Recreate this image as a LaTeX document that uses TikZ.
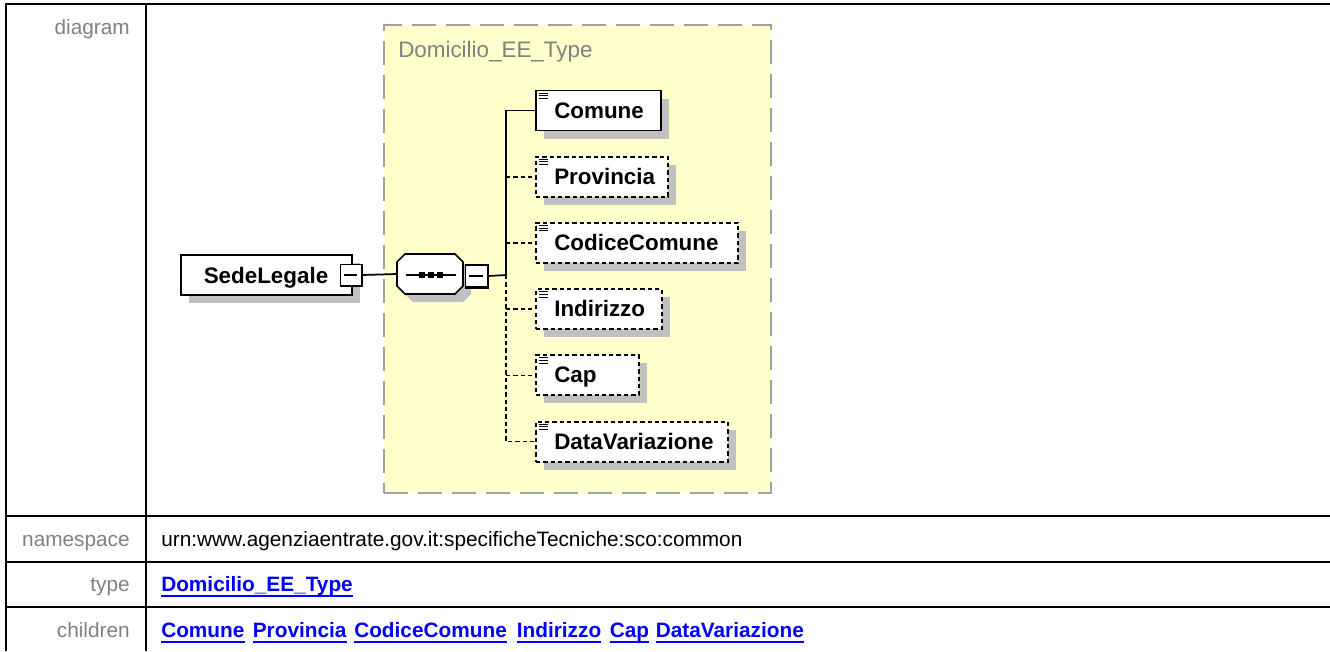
\documentclass[tikz,border=0pt]{standalone}
\usepackage{fontspec}
\setmainfont{Liberation Sans}
\usetikzlibrary{shadows}
\definecolor{lblgray}{HTML}{808080}
\definecolor{typefill}{HTML}{FFFFCC}
\definecolor{typeborder}{HTML}{A0A0A0}
\definecolor{shadowgray}{HTML}{C0C0C0}
\definecolor{linkblue}{HTML}{0000FF}
\newcommand\childel[5]{%
  \node[#5, anchor=west, minimum width=#4] (#1) at (535,#3) {};
  \node[eltext] (#1t) at (554,#3+7.5) {#2};
  \foreach \k in {0,1,2}{\draw[line width=0.8pt] ([xshift=2.8pt,yshift=-2.6pt-2pt*\k]#1.north west) -- ++(7pt,0pt);}
}
\newcommand\minusmark[1]{%
  \draw[line width=1.8pt] (#1.north east) -- (#1.south east) -- (#1.south west);
  \draw[line width=0.9pt] ([xshift=3pt]#1.west) -- ([xshift=-3.5pt]#1.east);
}
\begin{document}
\begin{tikzpicture}[x=0.75pt,y=-0.75pt,
  tableline/.style={line width=1.5pt},
  tfont/.style={font=\fontsize{15.6}{18}\selectfont},
  rowlabel/.style={tfont, anchor=base east, inner sep=0, text=lblgray},
  rowvalue/.style={tfont, anchor=base west, inner sep=0},
  link/.style={anchor=base west, inner sep=0, text=linkblue, font=\fontsize{15.6}{18}\selectfont\bfseries},
  typebox/.style={draw=typeborder, fill=typefill, line width=1.6pt, dash pattern=on 18pt off 7.5pt, inner sep=0},
  elshadow/.style={drop shadow={shadow xshift=6pt, shadow yshift=-6pt, fill=shadowgray, opacity=1}},
  elbox/.style={draw, fill=white, line width=1.4pt, minimum height=30pt, inner sep=0, elshadow},
  optbox/.style={elbox, dash pattern=on 3.2pt off 2.3pt},
  eltext/.style={anchor=base west, inner sep=0, font=\fontsize{16.8}{20}\selectfont\bfseries},
  minusbox/.style={draw, fill=white, line width=0.9pt, inner sep=0},
  conn/.style={line width=1.3pt},
  optconn/.style={conn, dash pattern=on 3.2pt off 2.3pt},
]
\path[use as bounding box] (0,0) rectangle (1330,651);
% table
\draw[tableline] (5,4) -- (1330,4);
\draw[tableline] (6,3) -- (6,651);
\draw[tableline] (146,3) -- (146,651);
\draw[tableline] (5,515.5) -- (1330,515.5);
\draw[tableline] (5,561.5) -- (1330,561.5);
\draw[tableline] (5,606.5) -- (1330,606.5);
\node[rowlabel] (ldiagram) at (130,34) {diagram};
\node[rowlabel] (lns) at (130,546) {namespace};
\node[rowlabel] (ltype) at (130,591) {type};
\node[rowlabel] (lchildren) at (130,637) {children};
\node[rowvalue] (vns) at (161,546) {urn:www.agenziaentrate.gov.it:specificheTecniche:sco:common};
\node[link] (vtype) at (161,591) {Domicilio\_EE\_Type};
\node[link] (c1) at (161,637) {Comune};
\node[link] (c2) at (252.6,637) {Provincia};
\node[link] (c3) at (354,637) {CodiceComune};
\node[link] (c4) at (516.6,637) {Indirizzo};
\node[link] (c5) at (609.6,637) {Cap};
\node[link] (c6) at (655.6,637) {DataVariazione};
\foreach \n in {vtype,c1,c2,c3,c4,c5,c6}{
  \draw[linkblue, line width=1.5pt] ([yshift=-3.4pt]\n.base west) -- ([yshift=-3.4pt]\n.base east);
}
% type box
\node[typebox, minimum width=290.25pt, minimum height=351pt] (type) at (577.5,259) {};
\node[anchor=base west, inner sep=0, text=lblgray, font=\fontsize{16.8}{20}\selectfont] (typelabel) at (398,57) {Domicilio\_EE\_Type};
% SedeLegale
\node[elbox, minimum width=128.25pt] (sede) at (266.5,275) {};
\node[eltext, anchor=base] (sedet) at (266,283) {SedeLegale};
\node[minusbox, minimum size=15.75pt] (sedeminus) at (351,275) {};
\minusmark{sedeminus}
% sequence compositor
\node[inner sep=0, minimum width=49.5pt, minimum height=30pt] (seq) at (430,274) {};
\fill[shadowgray] (413,262) -- (463,262) -- (471,270) -- (471,294) -- (463,302) -- (413,302) -- (405,294) -- (405,270) -- cycle;
\draw[line width=1.3pt, fill=white] (405,254) -- (455,254) -- (463,262) -- (463,286) -- (455,294) -- (405,294) -- (397,286) -- (397,262) -- cycle;
\draw[line width=1.3pt] (406,275) -- (456,275);
\foreach \sx in {422,431,440}{\fill (\sx-2.6,272.4) rectangle (\sx+2.6,277.6);}
\node[minusbox, minimum size=16.5pt] (seqminus) at (476.5,276) {};
\minusmark{seqminus}
% children
\childel{comune}{Comune}{110.5}{93.75pt}{elbox}
\childel{provincia}{Provincia}{176.7}{99pt}{optbox}
\childel{codicecomune}{CodiceComune}{243}{151.5pt}{optbox}
\childel{indirizzo}{Indirizzo}{309.2}{94.5pt}{optbox}
\childel{cap}{Cap}{375.4}{77.25pt}{optbox}
\childel{datavariazione}{DataVariazione}{441.6}{144pt}{optbox}
% connectors
\coordinate (j) at (506,275);
\draw[conn] (sedeminus.east) -- (seq.west);
\draw[conn] (seqminus.east) -- (j);
\draw[conn] (j) |- (comune.west);
\draw[optconn] (j) |- (datavariazione.west);
\foreach \n in {provincia,codicecomune,indirizzo,cap}{
  \draw[optconn] (\n.west -| j) -- (\n.west);
}
\end{tikzpicture}
\end{document}
